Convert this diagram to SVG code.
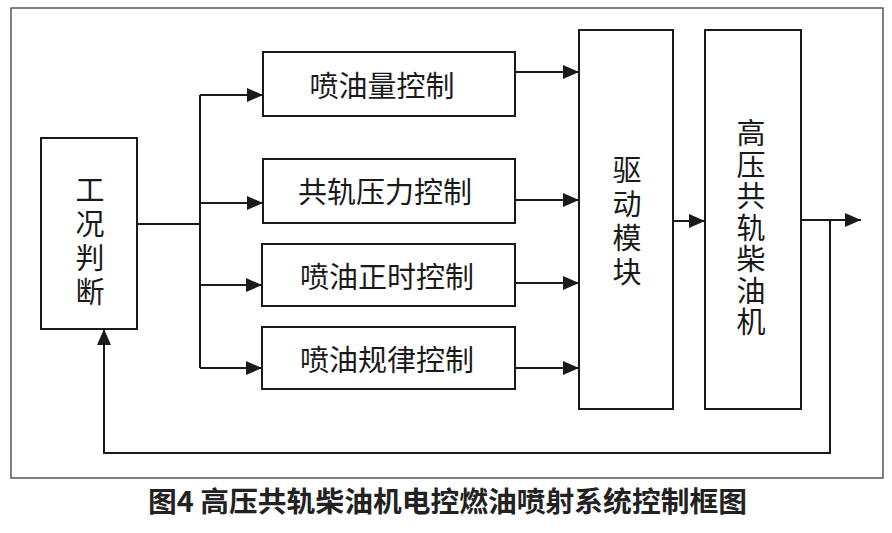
<svg xmlns="http://www.w3.org/2000/svg" width="892" height="533" viewBox="0 0 892 533">
<style>
.box{fill:#fff;stroke:#1a1a1a;stroke-width:2}
.lbl{font-family:"Noto Sans CJK SC","Noto Sans",sans-serif;font-size:29px;fill:#1a1a1a;text-anchor:middle;dominant-baseline:central}
.vl{font-family:"Noto Sans CJK SC","Noto Sans",sans-serif;font-size:29px;fill:#1a1a1a;writing-mode:vertical-rl;text-anchor:start}
.ln{fill:none;stroke:#1a1a1a;stroke-width:2}
.cap{font-family:"Noto Sans CJK SC","Noto Sans",sans-serif;font-size:28px;font-weight:700;fill:#222}
</style>
<defs>
<marker id="ah" markerUnits="userSpaceOnUse" markerWidth="16" markerHeight="14" viewBox="0 0 16 14" refX="16" refY="7" orient="auto">
<path d="M0,0 L16,7 L0,14 z" fill="#1a1a1a"/>
</marker>
</defs>
<rect width="892" height="533" fill="#fff"/>
<rect x="11" y="8" width="872" height="470" fill="none" stroke="#555" stroke-width="1.5"/>
<g id="connectors">
<path class="ln" d="M137,224 H200"/>
<path class="ln" d="M200,95 V368"/>
<path class="ln" d="M200,95 H263" marker-end="url(#ah)"/>
<path class="ln" d="M200,203 H263" marker-end="url(#ah)"/>
<path class="ln" d="M200,285 H262" marker-end="url(#ah)"/>
<path class="ln" d="M200,368 H262" marker-end="url(#ah)"/>
<path class="ln" d="M515,72 H579" marker-end="url(#ah)"/>
<path class="ln" d="M515,200 H579" marker-end="url(#ah)"/>
<path class="ln" d="M515,283 H579" marker-end="url(#ah)"/>
<path class="ln" d="M515,368 H579" marker-end="url(#ah)"/>
<path class="ln" d="M673,221 H705" marker-end="url(#ah)"/>
<path class="ln" d="M801,220 H861" marker-end="url(#ah)"/>
<path class="ln" d="M830,220 V453 H104 V329" marker-end="url(#ah)"/>
</g>
<g id="node-condition">
<rect class="box" x="41" y="138" width="96" height="191"/>
<text class="vl" x="90" y="175.5" letter-spacing="5">工况判断</text>
</g>
<g id="node-quantity">
<rect class="box" x="263" y="52" width="252" height="64"/>
<text class="lbl" x="382" y="84">喷油量控制</text>
</g>
<g id="node-pressure">
<rect class="box" x="263" y="159" width="252" height="64"/>
<text class="lbl" x="385" y="190">共轨压力控制</text>
</g>
<g id="node-timing">
<rect class="box" x="262" y="244" width="253" height="62"/>
<text class="lbl" x="387" y="275">喷油正时控制</text>
</g>
<g id="node-law">
<rect class="box" x="262" y="327" width="253" height="62"/>
<text class="lbl" x="387" y="358">喷油规律控制</text>
</g>
<g id="node-driver">
<rect class="box" x="579" y="30" width="94" height="379"/>
<text class="vl" x="627" y="155.5" letter-spacing="5">驱动模块</text>
</g>
<g id="node-engine">
<rect class="box" x="705" y="30" width="96" height="379"/>
<text class="vl" x="751" y="118.5" letter-spacing="2.5">高压共轨柴油机</text>
</g>
<text class="cap" x="148" y="512" textLength="599" lengthAdjust="spacingAndGlyphs">图4 高压共轨柴油机电控燃油喷射系统控制框图</text>
</svg>
